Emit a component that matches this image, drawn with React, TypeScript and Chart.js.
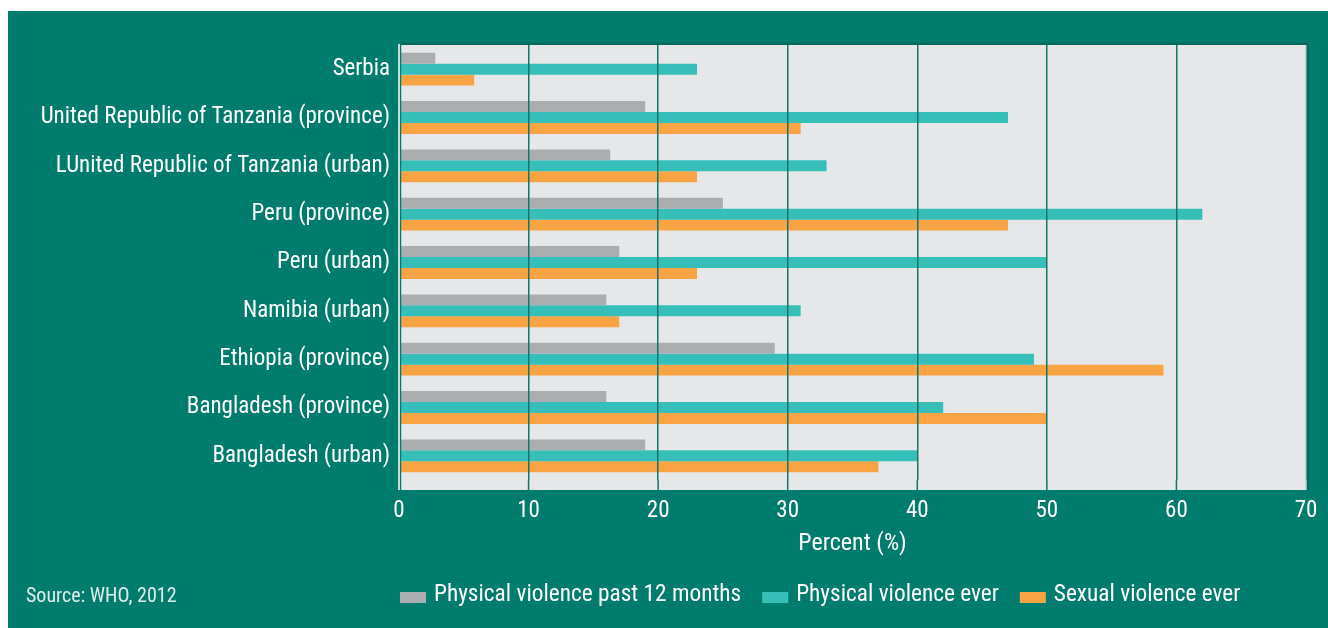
import { useEffect, useRef } from "react";
import { Chart, registerables } from "chart.js";

Chart.register(...registerables);

const categories = [
  "Serbia",
  "United Republic of Tanzania (province)",
  "LUnited Republic of Tanzania (urban)",
  "Peru (province)",
  "Peru (urban)",
  "Namibia (urban)",
  "Ethiopia (province)",
  "Bangladesh (province)",
  "Bangladesh (urban)",
];
const seriesNames = [
  "Physical violence past 12 months",
  "Physical violence ever",
  "Sexual violence ever",
];
const physicalPast12 = [2.8, 19, 16.3, 25, 17, 16, 29, 16, 19];
const physicalEver = [23, 47, 33, 62, 50, 31, 49, 42, 40];
const sexualEver = [5.8, 31, 23, 47, 23, 17, 59, 50, 37];
const xMin = 0;
const xMax = 70;
const xStep = 10;
const axisTitle = "Percent (%)";
const sourceNote = "Source: WHO, 2012";

const FONT = "'Liberation Sans Narrow', 'Arial Narrow', 'Roboto Condensed', sans-serif";
const BG = "#007c6e";
const PLOT = "#e6e7e9";
const GRID = "#17726a";
const COLORS = ["#abaeb1", "#36bfb8", "#f9a444"];
const EXT = 10;

export default function App() {
  const ref = useRef<HTMLCanvasElement | null>(null);

  useEffect(() => {
    const canvas = ref.current;
    if (!canvas) return;

    const plotBg = {
      id: "plotBg",
      beforeDraw(chart: any) {
        const { ctx, chartArea } = chart;
        const { left, right, top, bottom } = chartArea;
        ctx.save();
        ctx.fillStyle = "#006a5f";
        ctx.fillRect(left + 2, top - 2.5, right - left + 0.5, bottom + EXT - top + 2.5);
        ctx.fillStyle = PLOT;
        ctx.fillRect(left + 2, top, right - left - 2, bottom + EXT - top);
        ctx.restore();
      },
    };

    const extras = {
      id: "extras",
      afterDraw(chart: any) {
        const { ctx, chartArea } = chart;
        const { left, top, bottom } = chartArea;
        const xs = chart.scales.x;
        ctx.save();
        // teal gap between axis line and plot
        ctx.fillStyle = BG;
        ctx.fillRect(left + 0.75, top - 2.5, 1.5, bottom + EXT - top + 2.5);
        // extend grid lines below the last category
        for (let v = xMin + xStep; v <= xMax; v += xStep) {
          const px = xs.getPixelForValue(v);
          ctx.strokeStyle = v === xMax ? "#c5d3d1" : GRID;
          ctx.lineWidth = 1.5;
          ctx.beginPath();
          ctx.moveTo(px, bottom);
          ctx.lineTo(px, bottom + EXT);
          ctx.stroke();
        }
        ctx.strokeStyle = "#ffffff";
        ctx.lineWidth = 1.5;
        ctx.beginPath();
        ctx.moveTo(left, top - 1);
        ctx.lineTo(left, bottom + EXT);
        ctx.stroke();

        // legend
        ctx.font = `23.3px ${FONT}`;
        ctx.textBaseline = "middle";
        ctx.textAlign = "left";
        let x = left + 1;
        const yText = 584;
        chart.data.datasets.forEach((ds: any) => {
          ctx.fillStyle = ds.backgroundColor;
          ctx.fillRect(x, yText - 3, 26, 11);
          x += 26 + 8;
          ctx.fillStyle = "#ffffff";
          ctx.fillText(ds.label, x, yText);
          x += ctx.measureText(ds.label).width + 21;
        });

        // source
        ctx.font = `20px ${FONT}`;
        ctx.fillStyle = "rgba(255,255,255,0.88)";
        ctx.fillText(sourceNote, 18, 586);
        ctx.restore();
      },
    };

    const chart = new Chart(canvas, {
      type: "bar",
      data: {
        labels: categories,
        datasets: [
          { label: seriesNames[0], data: physicalPast12, backgroundColor: COLORS[0] },
          { label: seriesNames[1], data: physicalEver, backgroundColor: COLORS[1] },
          { label: seriesNames[2], data: sexualEver, backgroundColor: COLORS[2] },
        ],
      },
      options: {
        indexAxis: "y",
        animation: false,
        responsive: false,
        layout: { padding: { top: 34, right: 22, left: 0, bottom: 0 } },
        datasets: { bar: { categoryPercentage: 0.68, barPercentage: 1 } },
        plugins: {
          legend: { display: false },
          tooltip: { enabled: false },
        },
        scales: {
          x: {
            min: xMin,
            max: xMax,
            ticks: {
              stepSize: xStep,
              color: "#ffffff",
              font: { family: FONT, size: 23 },
              padding: 17,
            },
            grid: {
              color: (c: any) =>
                c.tick && c.tick.value === xMin
                  ? "rgba(0,0,0,0)"
                  : c.tick && c.tick.value === xMax
                  ? "#c5d3d1"
                  : GRID,
              lineWidth: 1.5,
              drawTicks: false,
              z: 1,
            },
            border: { display: false },
            title: {
              display: true,
              text: axisTitle,
              color: "#ffffff",
              font: { family: FONT, size: 24 },
              padding: { top: 0, bottom: 70 },
            },
            afterFit: (s: any) => {
              s.height = 148;
              s.paddingLeft = 0;
              s.paddingRight = 0;
            },
          },
          y: {
            ticks: {
              color: "#ffffff",
              font: { family: FONT, size: 23 },
              padding: 9,
            },
            grid: { display: false, drawTicks: false },
            border: { display: false },
            afterFit: (s: any) => {
              s.width = 391;
              s.paddingTop = 0;
              s.paddingBottom = 0;
            },
          },
        },
      },
      plugins: [plotBg, extras],
    } as any);

    return () => chart.destroy();
  }, []);

  return (
    <div
      style={{
        position: "fixed",
        left: 8,
        top: 11,
        width: 1320,
        height: 617,
        background: BG,
      }}
    >
      <canvas ref={ref} width={1320} height={617} style={{ width: 1320, height: 617, display: "block" }} />
    </div>
  );
}
